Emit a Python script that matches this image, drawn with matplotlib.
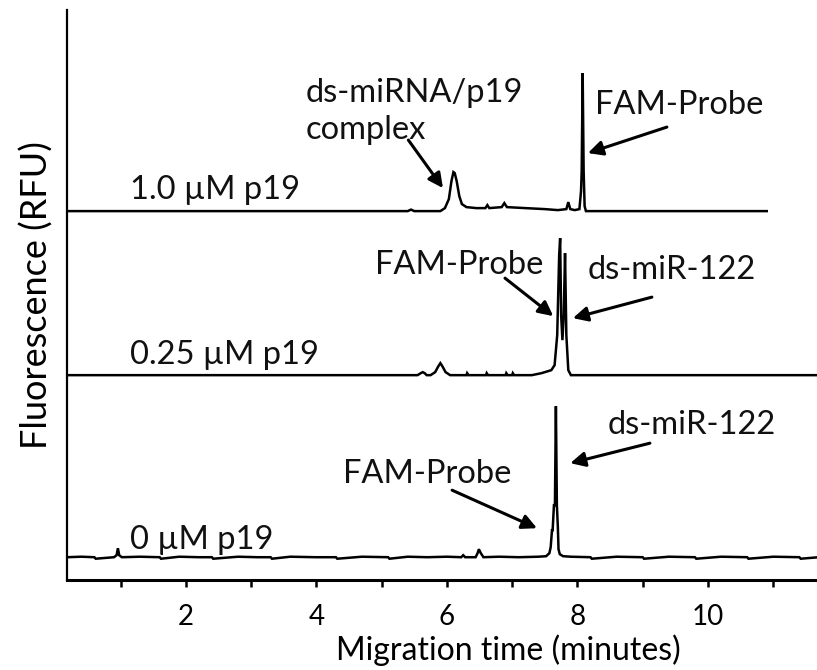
import matplotlib.pyplot as plt

plt.rcParams['font.family'] = ['Lato', 'DejaVu Sans']

# 0 uM p19 (bottom trace), signal above its own baseline
t_0uM = [0.18, 0.4, 0.6, 0.62, 0.9, 0.94, 0.96, 0.98, 1.02, 1.3, 1.6, 1.62, 1.9, 2.2,
         2.4, 2.42, 2.8, 3.1, 3.3, 3.32, 3.6, 4.0, 4.3, 4.32, 4.7, 5.1, 5.12, 5.4,
         5.7, 6.0, 6.22, 6.25, 6.28, 6.44, 6.47, 6.49, 6.52, 6.56, 6.8, 7.1, 7.4,
         7.52, 7.57, 7.59, 7.61, 7.62, 7.64, 7.655, 7.67, 7.685, 7.70, 7.71, 7.73,
         7.78, 7.9, 8.2, 8.22, 8.6, 9.0, 9.02, 9.4, 9.8, 9.82, 10.2, 10.6, 10.62,
         11.0, 11.4, 11.42, 11.7]
s_0uM = [0, 0.5, 0, -1.5, 0, 2, 9, 2, 0, 0.5, 0, -1.5, 0.5, 0,
         0, -1.5, 0.5, 0, 0, -1.5, 0.5, 0, 0, -1.5, 0.5, 0, -1.5, 0.5,
         0, 0.5, 0, 2, 0, 0, 4, 8, 4, 0, 0.5, 0, 0.5,
         1, 4, 10, 27, 27, 52, 52, 151, 52, 30, 8, 3,
         1, 0.5, 0, -1.5, 0.5, 0, -1.5, 0.5, 0, -1.5, 0.5, 0, -1.5,
         0.5, 0, -1.5, 0]

# 0.25 uM p19 (middle trace)
t_025uM = [0.18, 5.55, 5.6, 5.63, 5.66, 5.69, 5.75, 5.82, 5.87, 5.9, 5.93, 5.98,
           6.05, 6.3, 6.31, 6.33, 6.6, 6.61, 6.63, 6.9, 6.91, 6.93, 7.0, 7.01,
           7.03, 7.3, 7.45, 7.5, 7.6, 7.65, 7.69, 7.72, 7.735, 7.75, 7.77, 7.79,
           7.81, 7.83, 7.86, 7.9, 11.7]
s_025uM = [0, 0, 2, 3, 2, 0, 0, 3, 9, 12, 9, 3,
           0, 0, 2, 0, 0, 2, 0, 0, 2, 0, 0, 2,
           0, 0, 2, 3, 5, 10, 40, 120, 137, 60, 35, 60,
           122, 40, 5, 0, 0]

# 1.0 uM p19 (top trace)
t_1uM = [0.18, 5.4, 5.45, 5.5, 5.9, 5.97, 6.03, 6.07, 6.1, 6.12, 6.15, 6.19,
         6.23, 6.3, 6.45, 6.59, 6.62, 6.65, 6.84, 6.88, 6.92, 7.2, 7.5, 7.7,
         7.83, 7.86, 7.89, 7.96, 8.03, 8.055, 8.065, 8.08, 8.095, 8.11, 8.13, 10.9]
s_1uM = [0, 0, 1.5, 0, 0, 3, 12, 30, 39, 38, 30, 15,
         7, 4, 3, 3, 6, 3, 4, 8, 4, 3, 2, 1,
         2, 9, 2, 1, 2, 20, 40, 138, 40, 5, 0, 0]

baselines = [23, 205, 369]
sample_labels = ['0 \u00b5M p19', '0.25 \u00b5M p19', '1.0 \u00b5M p19']

fig = plt.figure(figsize=(8.17, 6.70), dpi=100)
ax = fig.add_axes([0.082, 0.134, 0.918, 0.851])

for t, s, b in zip([t_0uM, t_025uM, t_1uM], [s_0uM, s_025uM, s_1uM], baselines):
    ax.plot(t, [v + b for v in s], color='black', lw=1.8, solid_joinstyle='miter')

txt = dict(fontsize=23.5, color='#111111')
ax.text(1.15, 40, sample_labels[0], va='center', **txt)
ax.text(1.15, 225, sample_labels[1], va='center', **txt)
ax.text(1.15, 390, sample_labels[2], va='center', **txt)

arrow = dict(arrowstyle='-|>', color='black', lw=2.2, mutation_scale=22,
             shrinkA=0, shrinkB=0)

# top trace
ax.text(3.83, 502, 'ds-miRNA/p19\ncomplex', va='top', ha='left',
        linespacing=1.3, **txt)
ax.annotate('', xy=(5.94, 392), xytext=(5.41, 440), arrowprops=arrow)
ax.text(8.27, 475, 'FAM-Probe', va='center', **txt)
ax.annotate('', xy=(8.16, 427), xytext=(9.37, 453), arrowprops=arrow)

# middle trace
ax.text(4.9, 315, 'FAM-Probe', va='center', **txt)
ax.annotate('', xy=(7.63, 264), xytext=(6.89, 302), arrowprops=arrow)
ax.text(8.16, 310, 'ds-miR-122', va='center', **txt)
ax.annotate('', xy=(7.93, 262), xytext=(9.14, 283), arrowprops=arrow)

# bottom trace
ax.text(8.47, 155, 'ds-miR-122', va='center', **txt)
ax.annotate('', xy=(7.89, 117), xytext=(9.11, 137), arrowprops=arrow)
ax.text(4.41, 106, 'FAM-Probe', va='center', **txt)
ax.annotate('', xy=(7.38, 52), xytext=(6.08, 90), arrowprops=arrow)

ax.set_xlim(0.18, 11.67)
ax.set_ylim(0, 570)
ax.set_xticks([2, 4, 6, 8, 10])
ax.set_xticks([1, 3, 5, 7, 9, 11], minor=True)
ax.set_yticks([])
ax.tick_params(axis='x', which='both', direction='out', length=5, width=1.8,
               labelsize=20, pad=12)
for side in ['top', 'right']:
    ax.spines[side].set_visible(False)
ax.spines['left'].set_linewidth(1.6)
ax.spines['bottom'].set_linewidth(2.2)

ax.set_xlabel('Migration time (minutes)', fontsize=23, va='center')
ax.xaxis.set_label_coords(0.589, -0.122)
ax.set_ylabel('Fluorescence (RFU)', fontsize=26, labelpad=10)

fig.savefig('out.png', dpi=100)
